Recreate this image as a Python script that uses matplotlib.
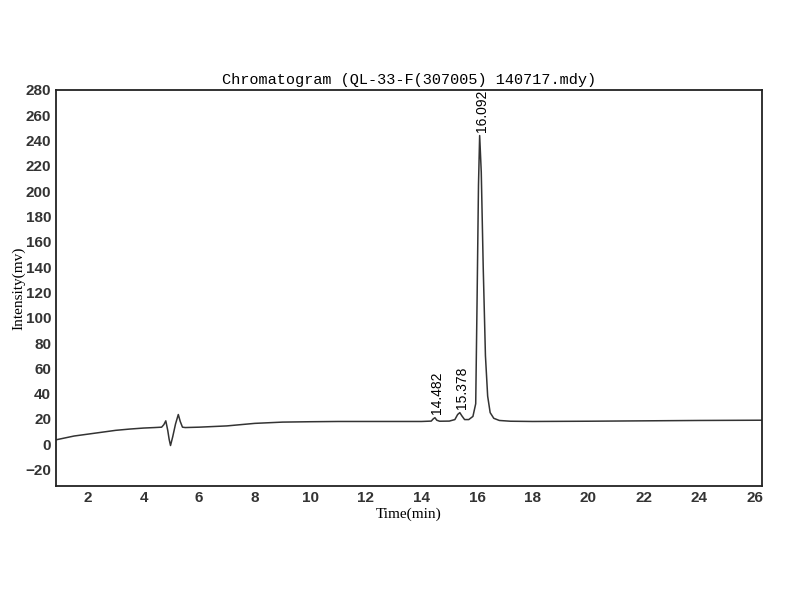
import matplotlib.pyplot as plt

# trace
time_min = [0.85, 1.5, 2.0, 2.5, 3.0, 3.5, 4.0, 4.4, 4.65, 4.73, 4.8, 4.87,
            4.92, 4.97, 5.05, 5.15, 5.25, 5.32, 5.4, 5.5, 6.0, 7.0, 8.0,
            9.0, 10.0, 11.0, 12.0, 13.0, 14.0, 14.35, 14.42, 14.482, 14.55,
            14.65, 15.0, 15.2, 15.3, 15.378, 15.45, 15.55, 15.7, 15.85,
            15.95, 16.0, 16.05, 16.092, 16.15, 16.22, 16.3, 16.38, 16.47,
            16.6, 16.8, 17.2, 18.0, 20.0, 22.0, 24.0, 26.25]
intensity = [3.5, 6.5, 8.0, 9.5, 11.0, 12.0, 12.8, 13.2, 13.5, 15.5, 18.5,
             11.0, 4.0, -1.0, 6.0, 16.0, 23.5, 18.0, 13.5, 13.2, 13.5, 14.5,
             16.5, 17.5, 17.8, 18.0, 18.0, 18.0, 18.0, 18.3, 20.0, 21.0,
             19.0, 18.2, 18.3, 19.5, 23.5, 25.0, 22.5, 19.5, 19.5, 22.0,
             32.0, 115.0, 205.0, 244.0, 215.0, 140.0, 70.0, 38.0, 25.0,
             20.5, 18.8, 18.2, 18.0, 18.2, 18.5, 18.8, 19.0]
peak_times = [14.482, 15.378, 16.092]
peak_heights = [21.0, 25.0, 244.0]

plt.figure(figsize=(8, 6), dpi=100)
ax = plt.axes([0.07, 0.19, 0.8825, 0.66])
ax.plot(time_min, intensity, color='#333333', linewidth=1.1)

for t, h in zip(peak_times, peak_heights):
    ax.text(t + 0.08, h + 3, '%.3f' % t, rotation=90, ha='center',
            va='bottom', fontsize=10, family='Liberation Sans')

ax.set_xlim(0.85, 26.25)
ax.set_ylim(-33, 280)
ax.set_xticks(range(2, 27, 2))
ax.set_yticks(range(-20, 281, 20))
ax.tick_params(direction='in', length=0, labelsize=11)
for lab in ax.get_xticklabels() + ax.get_yticklabels():
    lab.set_family('Liberation Sans')
    lab.set_fontweight('bold')
    lab.set_color('#333333')
for sp in ax.spines.values():
    sp.set_linewidth(1.3)
    sp.set_color('#222222')

ax.set_title('Chromatogram (QL-33-F(307005) 140717.mdy)',
             family='Liberation Mono', fontsize=11, pad=4)
ax.set_xlabel('Time(min)', family='Liberation Serif', fontsize=11,
              labelpad=2)
ax.set_ylabel('Intensity(mv)', family='Liberation Serif', fontsize=11,
              labelpad=0)

plt.savefig('out.png')
plt.close()
